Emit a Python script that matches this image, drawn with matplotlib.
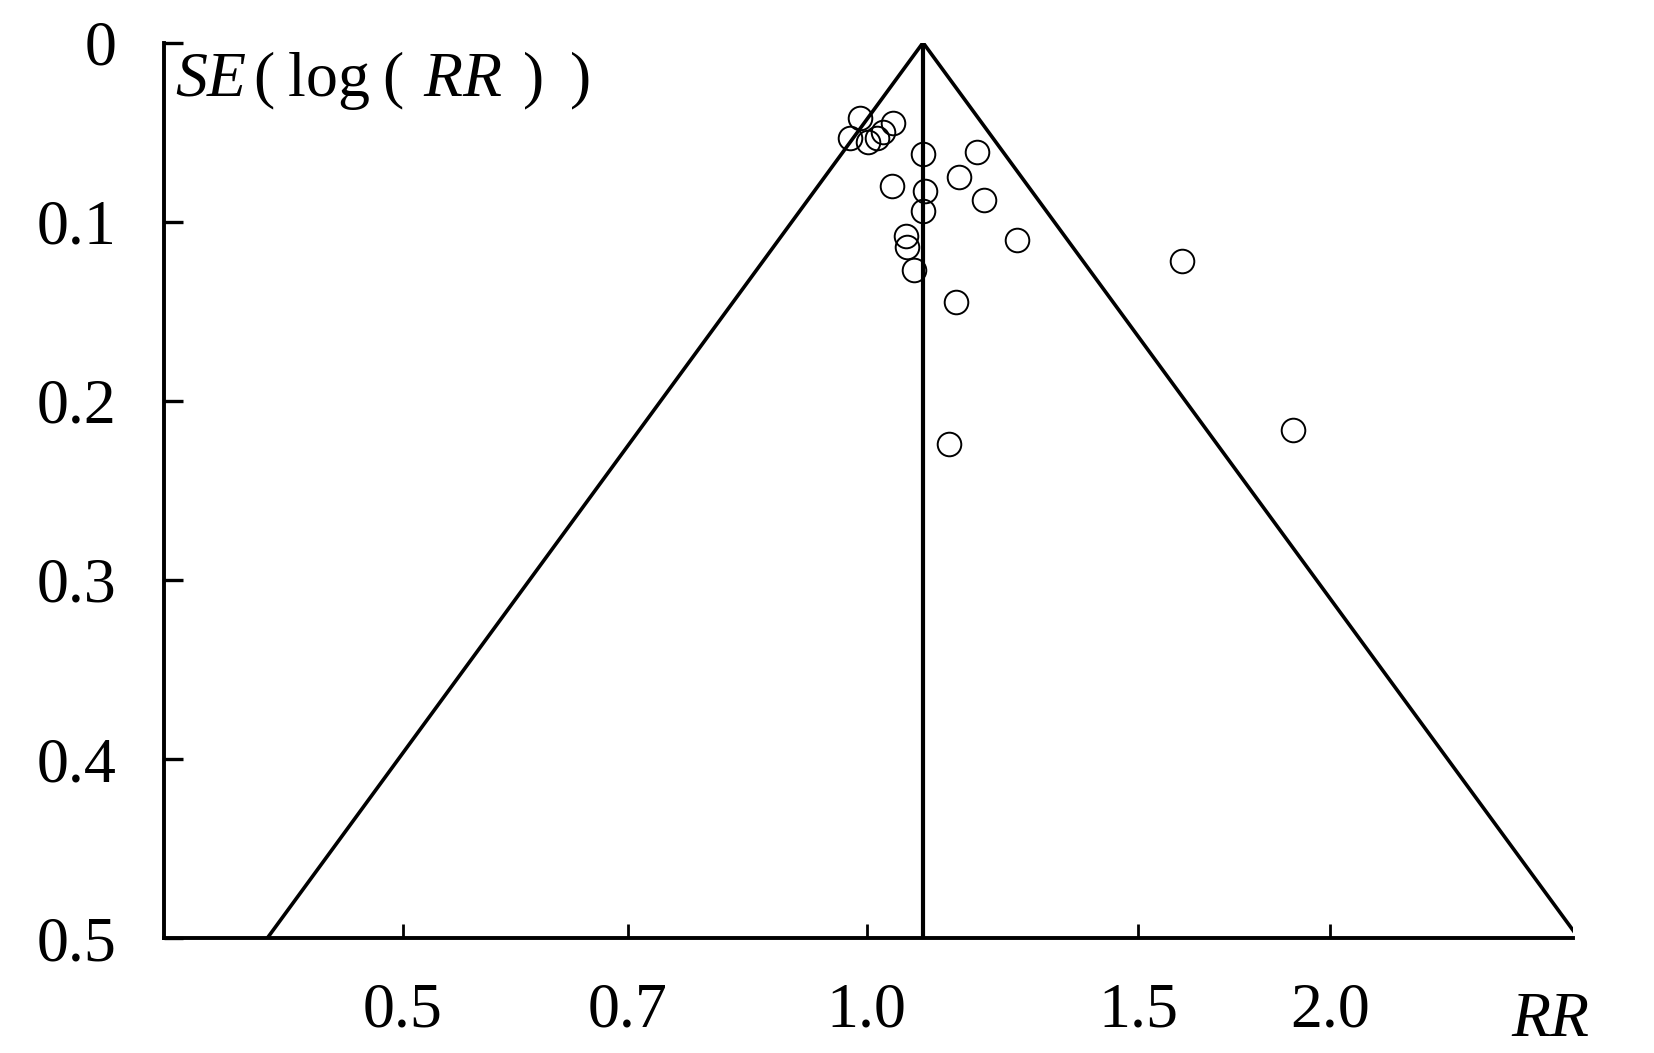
import numpy as np
import matplotlib
matplotlib.use("Agg")
import matplotlib.pyplot as plt

plt.rcParams["font.family"] = ["Liberation Serif", "DejaVu Serif"]
plt.rcParams["mathtext.fontset"] = "custom"
plt.rcParams["mathtext.rm"] = "Liberation Serif"
plt.rcParams["mathtext.it"] = "Liberation Serif:italic"

# study estimates (RR, SE of log RR)
study_rr = [0.990, 0.975, 1.002, 1.016, 1.025, 1.040,
            1.088, 1.179, 1.039, 1.148, 1.092, 1.088, 1.192,
            1.061, 1.063, 1.073, 1.252, 1.601, 1.143, 1.131, 1.892]
study_se = [0.042, 0.053, 0.0555, 0.053, 0.050, 0.045,
            0.062, 0.061, 0.080, 0.075, 0.083, 0.094, 0.088,
            0.108, 0.114, 0.127, 0.110, 0.122, 0.145, 0.224, 0.216]

pooled_rr = 1.088
se_max = 0.5

xticks = [0.5, 0.7, 1.0, 1.5, 2.0]
xtick_labels = ["0.5", "0.7", "1.0", "1.5", "2.0"]
yticks = [0, 0.1, 0.2, 0.3, 0.4, 0.5]
ytick_labels = ["0", "0.1", "0.2", "0.3", "0.4", "0.5"]

fig = plt.figure(figsize=(16.54, 10.53), dpi=100)
ax = fig.add_axes([0.0992, 0.109, 0.852, 0.8505])

# funnel (pseudo 95% limits) and pooled estimate
funnel_se = [se_max, 0, se_max]
funnel_rr = [pooled_rr * np.exp(-1.96 * se_max), pooled_rr, pooled_rr * np.exp(1.96 * se_max)]
ax.plot(funnel_rr, funnel_se, color="black", lw=2.6, solid_capstyle="butt")
ax.plot([pooled_rr, pooled_rr], [0, se_max], color="black", lw=3.0)

ax.plot(study_rr, study_se, "o", ms=17, mfc="none", mec="black", mew=1.4)

ax.set_xscale("log")
ax.set_xlim(0.35, 2.875)
ax.set_ylim(0.5, 0)
ax.minorticks_off()
ax.set_xticks(xticks)
ax.set_xticklabels(xtick_labels)
ax.set_yticks(yticks)
ax.set_yticklabels(ytick_labels)

for s in ["top", "right"]:
    ax.spines[s].set_visible(False)
for s in ["left", "bottom"]:
    ax.spines[s].set_linewidth(2.8)

ax.tick_params(axis="y", direction="in", length=14, width=2.4, labelsize=46, pad=34)
ax.tick_params(axis="x", direction="in", length=10, width=2.0, labelsize=46, pad=32)

ax.text(0.984, -0.06, "RR", transform=ax.transAxes, fontsize=46, style="italic",
        ha="center", va="top")
ax.text(0.008, 0.958, r"$\mathit{SE}\,(\;\mathrm{log}\;(\;\,\mathit{RR}\;\,)\;\;)$",
        transform=ax.transAxes, fontsize=46, ha="left", va="center")

fig.savefig("out.png", dpi=100, facecolor="white")
